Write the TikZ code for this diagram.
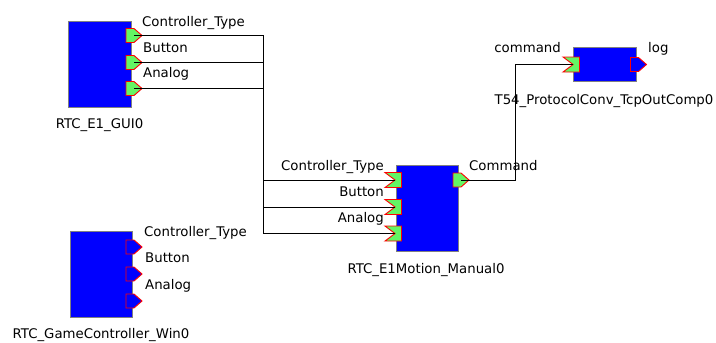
\documentclass[tikz,border=0pt]{standalone}
\usepackage{fontspec}
\setmainfont{DejaVu Sans}
\definecolor{rtcblue}{RGB}{0,0,255}
\definecolor{portgreen}{RGB}{100,245,100}
\definecolor{portred}{RGB}{255,0,0}
\definecolor{rtcgray}{RGB}{128,128,128}
\newcommand\rtcoutport[4]{% name, x-left, y-center, fill
  \draw[portedge, fill=#4] ({#2},{#3-7}) -- ++(8,0) -- ++(8,7) -- ++(-8,7) -- ++(-8,0) -- cycle;
  \coordinate (#1) at ({#2+8},{#3});}
\newcommand\rtcinport[3]{% name, x-left, y-center
  \draw[portedge, fill=portgreen] ({#2},{#3-7.5}) -- ++(16.5,0) -- ++(0,15) -- ++(-16.5,0) -- ++(10,-7.5) -- cycle;
  \coordinate (#1) at ({#2+10},{#3});}
\tikzset{
  block/.style={draw=rtcgray, line width=1pt, fill=rtcblue, inner sep=0pt},
  portedge/.style={draw=portred, line width=0.9pt, line join=miter},
  lbl/.style={inner sep=0pt, text=black},
  wire/.style={draw=black, line width=0.9pt},
}
\begin{document}
\begin{tikzpicture}[x=1pt,y=-1pt, font=\fontsize{13.3}{15}\selectfont]
\useasboundingbox (0,0) rectangle (716,343);
\fill[white] (0,0) rectangle (716,343);

% blocks
\node[block, minimum width=63pt, minimum height=86pt] (gui) at (99.5,64) {};
\node[block, minimum width=62pt, minimum height=86pt] (gc) at (101,274) {};
\node[block, minimum width=62pt, minimum height=86pt] (mot) at (427,208) {};
\node[block, minimum width=63pt, minimum height=34pt] (t54) at (604.5,64.5) {};

% ports
\rtcoutport{guiCT}{126}{35.5}{portgreen}
\rtcoutport{guiBT}{126}{62.5}{portgreen}
\rtcoutport{guiAN}{126}{88.5}{portgreen}
\rtcoutport{gcCT}{126}{247}{rtcblue}
\rtcoutport{gcBT}{126}{274}{rtcblue}
\rtcoutport{gcAN}{126}{301}{rtcblue}
\rtcinport{motCT}{385}{180}
\rtcinport{motBT}{385}{207}
\rtcinport{motAN}{385}{233.5}
\rtcoutport{motCMD}{453}{180}{portgreen}
\rtcinport{t54CMD}{563}{64.5}
\rtcoutport{t54LOG}{630.5}{64.5}{rtcblue}

% wires
\coordinate (busA) at (263,0);
\coordinate (busB) at (515,0);
\draw[wire] (guiCT) -- (guiCT -| busA) -- (busA |- motCT) -- (motCT);
\draw[wire] (guiBT) -- (guiBT -| busA) -- (busA |- motBT) -- (motBT);
\draw[wire] (guiAN) -- (guiAN -| busA) -- (busA |- motAN) -- (motAN);
\draw[wire] (motCMD) -- (motCMD -| busB) -- (busB |- t54CMD) -- (t54CMD);

% labels
\node[lbl, anchor=base west] (l1) at (142,26) {Controller\_Type};
\node[lbl, anchor=base west] (l2) at (143,52) {Button};
\node[lbl, anchor=base west] (l3) at (143,77.5) {Analog};
\node[lbl, anchor=base] (l4) at (99.5,128.5) {RTC\_E1\_GUI0};

\node[lbl, anchor=base west] (l5) at (144,236) {Controller\_Type};
\node[lbl, anchor=base west] (l6) at (145,262.5) {Button};
\node[lbl, anchor=base west] (l7) at (145,289) {Analog};
\node[lbl, anchor=base] (l8) at (101,338) {RTC\_GameController\_Win0};

\node[lbl, anchor=base east] (l9) at (384,170) {Controller\_Type};
\node[lbl, anchor=base east] (l10) at (384,196) {Button};
\node[lbl, anchor=base east] (l11) at (384,222.5) {Analog};
\node[lbl, anchor=base west] (l12) at (469,170) {Command};
\node[lbl, anchor=base] (l13) at (426,273.5) {RTC\_E1Motion\_Manual0};

\node[lbl, anchor=base east] (l14) at (561,52) {command};
\node[lbl, anchor=base west] (l15) at (648,52) {log};
\node[lbl, anchor=base] (l16) at (604,104) {T54\_ProtocolConv\_TcpOutComp0};
\end{tikzpicture}
\end{document}
